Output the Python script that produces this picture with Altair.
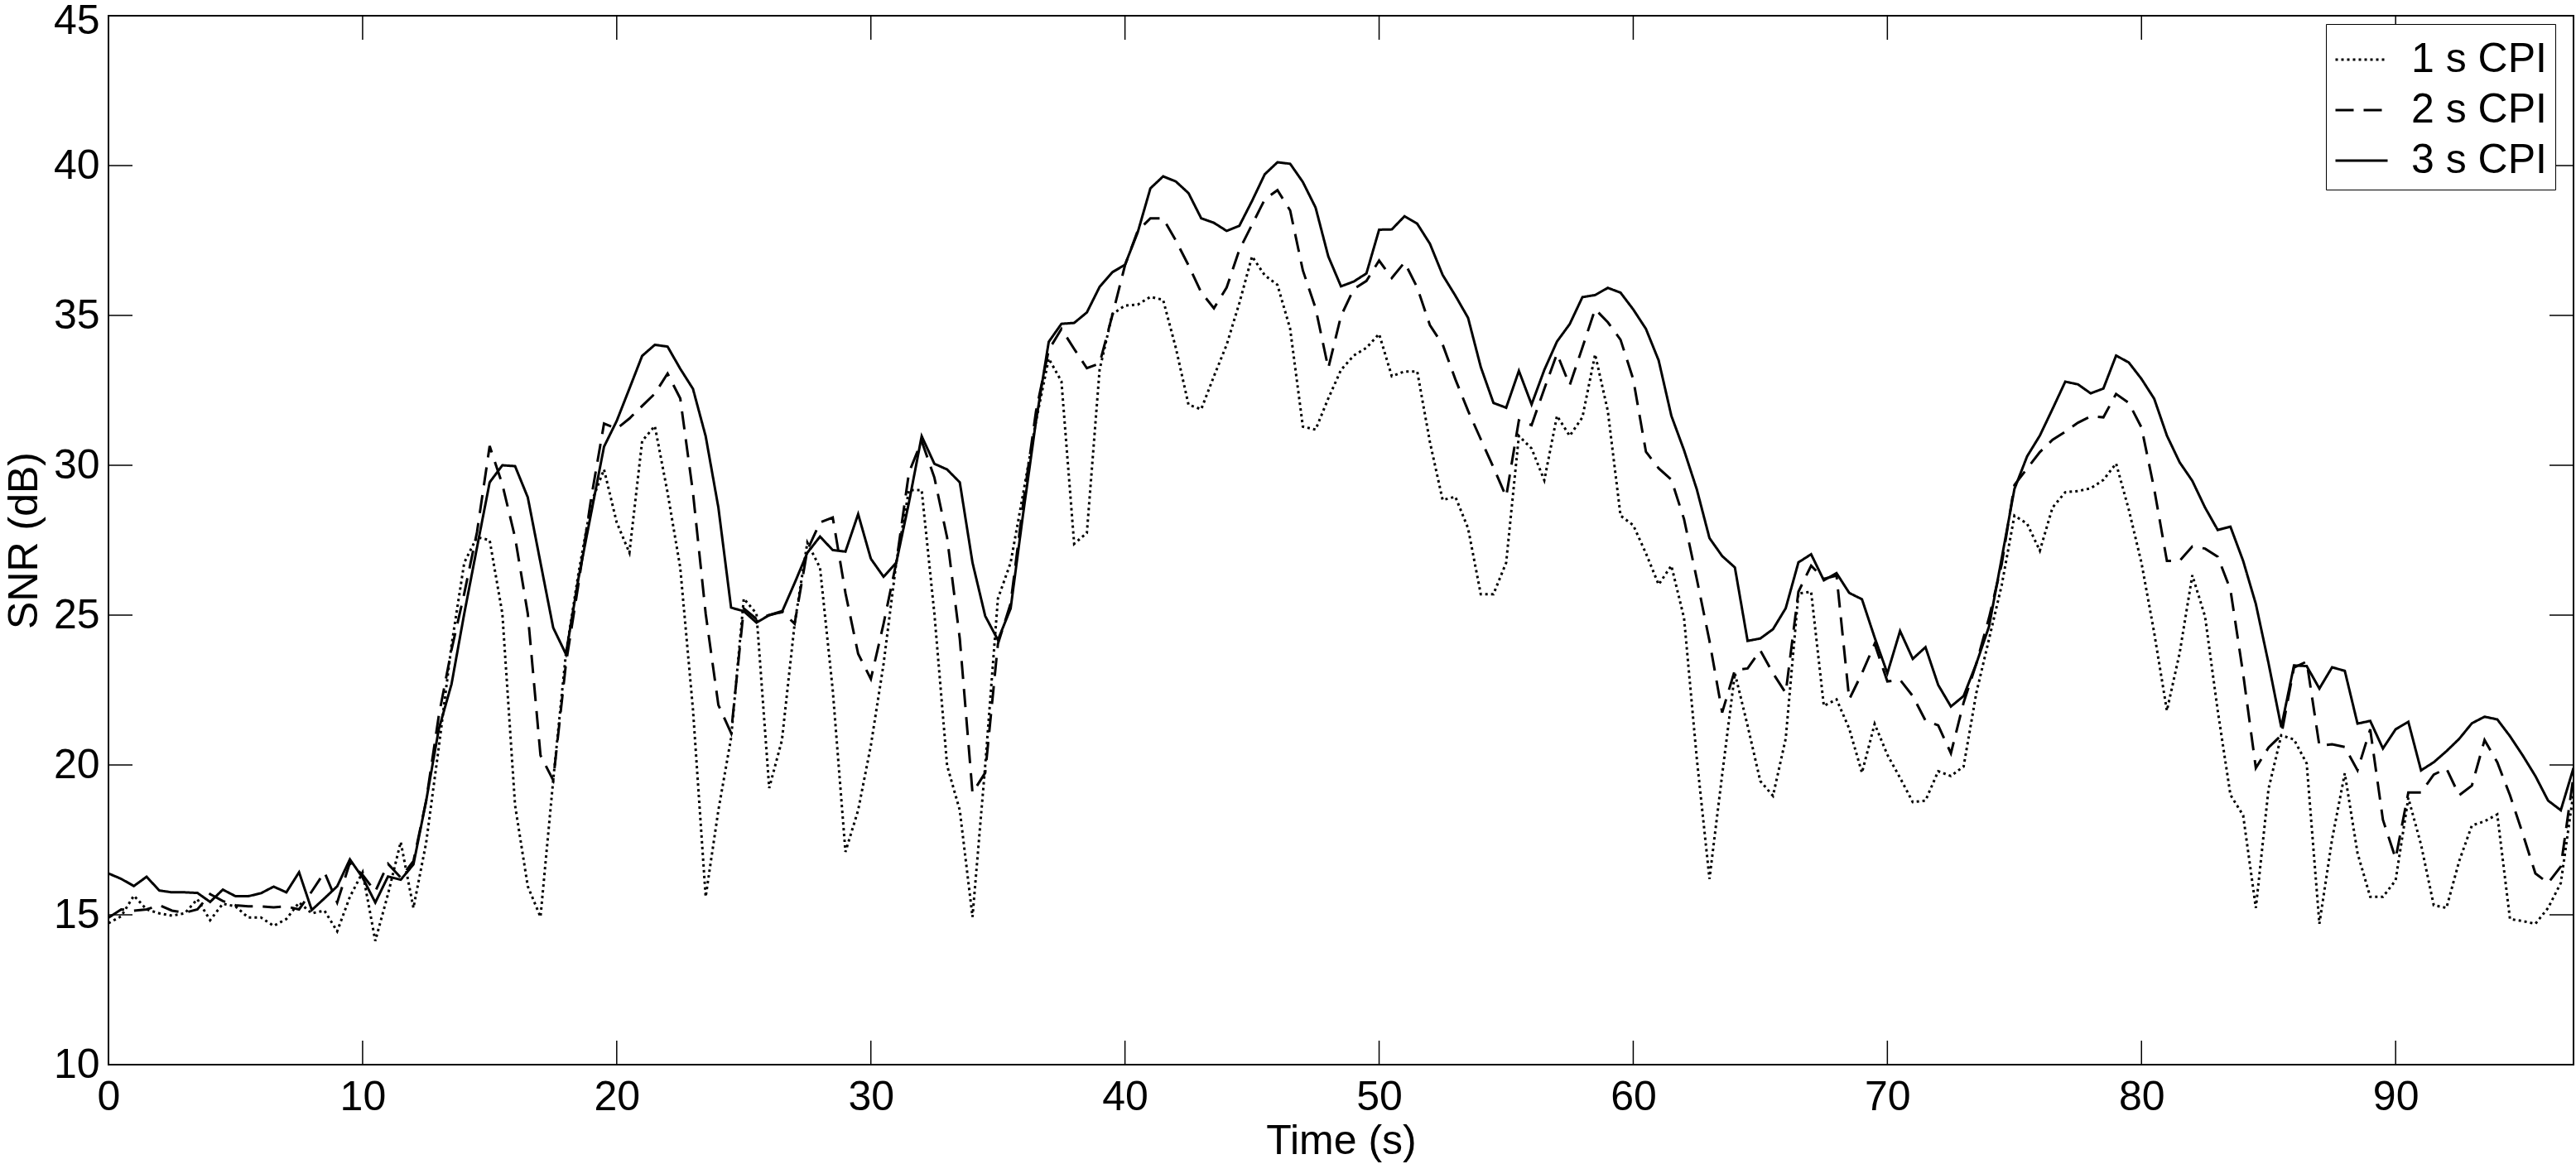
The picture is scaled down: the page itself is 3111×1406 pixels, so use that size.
import altair as alt
import pandas as pd

# ---------------- data ----------------
TIME_STEP_S = 0.5  # samples every 0.5 s, from 0 s to 97 s

snr_1s = [
    14.72, 14.95, 15.64, 15.18, 15.05, 14.97, 15.05, 15.52, 14.82, 15.37,
    15.28, 14.91, 14.91, 14.63, 14.86, 15.41, 15.05, 15.14, 14.45, 15.60,
    16.42, 14.13, 15.69, 17.43, 15.23, 17.40, 20.60, 24.00, 26.75, 27.60,
    27.50, 25.05, 18.65, 15.95, 14.93, 19.49, 23.71, 26.42, 28.76, 29.86,
    28.09, 27.08, 30.81, 31.31, 29.09, 26.58, 21.85, 15.60, 18.49, 20.90,
    25.55, 25.05, 19.23, 20.82, 24.71, 27.42, 26.58, 22.50, 17.10, 18.49,
    20.65, 23.37, 26.75, 29.17, 29.17, 25.05, 19.98, 18.49, 14.93, 19.98,
    25.55, 26.75, 29.09, 31.48, 33.56, 32.80, 27.38, 27.74, 33.18, 35.04,
    35.33, 35.36, 35.62, 35.52, 33.92, 32.02, 31.87, 32.97, 34.02, 35.41,
    36.97, 36.34, 36.02, 34.55, 31.29, 31.19, 32.23, 33.18, 33.66, 33.92,
    34.38, 32.97, 33.13, 33.13, 30.77, 28.84, 28.95, 27.90, 25.70, 25.70,
    26.75, 30.98, 30.56, 29.50, 31.65, 30.98, 31.60, 33.70, 31.81, 28.32,
    28.00, 27.06, 26.02, 26.65, 24.90, 20.22, 16.20, 19.68, 23.06, 21.31,
    19.46, 18.97, 20.88, 25.72, 25.78, 21.97, 22.19, 21.21, 19.74, 21.37,
    20.34, 19.57, 18.76, 18.81, 19.79, 19.63, 19.95, 22.40, 24.20, 26.00,
    28.32, 28.05, 27.15, 28.59, 29.10, 29.14, 29.23, 29.51, 30.06, 28.52,
    26.74, 24.41, 21.81, 23.73, 26.33, 24.96, 21.81, 19.00, 18.32, 15.23,
    19.21, 20.99, 20.85, 20.05, 14.70, 17.52, 19.72, 17.06, 15.60, 15.60,
    16.15, 18.90, 17.34, 15.32, 15.23, 16.79, 17.98, 18.12, 18.35, 14.86,
    14.79, 14.70, 15.23, 16.06, 19.08,
]

snr_2s = [
    14.90, 15.18, 15.14, 15.18, 15.32, 15.14, 15.07, 15.18, 15.69, 15.46,
    15.32, 15.28, 15.28, 15.25, 15.28, 15.18, 15.78, 16.42, 15.41, 16.74,
    16.33, 15.78, 16.70, 16.24, 16.79, 18.80, 21.65, 23.85, 25.72, 27.76,
    30.64, 29.36, 27.59, 25.05, 20.32, 19.49, 23.37, 26.07, 28.93, 31.39,
    31.22, 31.56, 31.98, 32.39, 33.06, 32.23, 29.09, 25.05, 22.00, 21.07,
    25.22, 24.87, 25.00, 25.13, 24.71, 27.17, 28.09, 28.26, 25.74, 23.71,
    22.87, 24.71, 26.75, 29.76, 30.81, 29.59, 27.59, 24.21, 19.07, 19.74,
    24.04, 25.39, 28.76, 31.81, 33.85, 34.55, 33.88, 33.24, 33.40, 35.00,
    36.67, 37.82, 38.24, 38.24, 37.50, 36.67, 35.77, 35.24, 35.93, 37.19,
    38.03, 38.87, 39.18, 38.50, 36.50, 35.24, 33.24, 34.98, 35.88, 36.15,
    36.83, 36.25, 36.77, 35.93, 34.67, 34.03, 32.87, 31.82, 30.87, 29.93,
    28.95, 31.50, 31.34, 32.55, 33.72, 32.67, 33.93, 35.21, 34.77, 34.19,
    32.87, 30.45, 29.90, 29.52, 28.20, 26.21, 24.14, 21.75, 23.17, 23.22,
    23.82, 23.06, 22.40, 25.78, 26.65, 26.21, 26.32, 22.19, 23.06, 24.04,
    22.79, 22.84, 22.30, 21.48, 21.32, 20.39, 22.08, 23.38, 24.91, 26.70,
    29.34, 29.89, 30.44, 30.85, 31.12, 31.42, 31.63, 31.60, 32.38, 32.08,
    31.26, 29.21, 26.81, 26.81, 27.29, 27.22, 26.95, 25.85, 23.04, 19.90,
    20.58, 20.99, 23.25, 23.45, 20.64, 20.69, 20.60, 19.82, 21.19, 18.17,
    16.88, 19.08, 19.08, 19.68, 19.88, 18.99, 19.31, 20.83, 20.09, 18.99,
    17.71, 16.38, 16.06, 16.61, 19.63,
]

snr_3s = [
    16.38, 16.20, 15.96, 16.27, 15.81, 15.75, 15.75, 15.73, 15.43, 15.84,
    15.62, 15.62, 15.72, 15.94, 15.75, 16.42, 15.16, 15.55, 15.95, 16.85,
    16.24, 15.41, 16.28, 16.17, 16.68, 18.80, 21.20, 22.70, 25.05, 27.25,
    29.43, 30.00, 29.97, 28.93, 26.75, 24.58, 23.70, 26.25, 28.43, 30.62,
    31.48, 32.56, 33.65, 34.02, 33.96, 33.22, 32.55, 30.97, 28.59, 25.25,
    25.13, 24.75, 25.00, 25.10, 26.07, 27.08, 27.62, 27.17, 27.12, 28.37,
    26.88, 26.28, 26.75, 28.76, 30.97, 30.05, 29.86, 29.43, 26.75, 24.97,
    24.17, 25.22, 28.43, 31.48, 34.12, 34.72, 34.75, 35.10, 35.95, 36.44,
    36.69, 37.77, 39.24, 39.64, 39.47, 39.08, 38.24, 38.09, 37.82, 37.99,
    38.82, 39.71, 40.11, 40.06, 39.45, 38.60, 36.97, 35.97, 36.13, 36.40,
    37.86, 37.87, 38.31, 38.06, 37.39, 36.35, 35.66, 34.92, 33.28, 32.08,
    31.92, 33.15, 32.03, 33.18, 34.13, 34.71, 35.61, 35.68, 35.92, 35.76,
    35.20, 34.55, 33.50, 31.65, 30.50, 29.20, 27.57, 26.97, 26.59, 24.14,
    24.22, 24.53, 25.23, 26.76, 27.03, 26.16, 26.40, 25.74, 25.53, 24.25,
    23.06, 24.47, 23.54, 23.93, 22.67, 21.95, 22.30, 23.38, 24.62, 26.90,
    29.21, 30.30, 30.99, 31.88, 32.79, 32.70, 32.40, 32.56, 33.66, 33.43,
    32.88, 32.22, 30.99, 30.10, 29.48, 28.59, 27.84, 27.95, 26.81, 25.37,
    23.39, 21.26, 23.32, 23.30, 22.55, 23.26, 23.14, 21.38, 21.47, 20.55,
    21.19, 21.44, 19.82, 20.09, 20.46, 20.87, 21.39, 21.61, 21.52, 20.96,
    20.32, 19.63, 18.81, 18.49, 19.90,
]

series_names = ["1 s CPI", "2 s CPI", "3 s CPI"]
x_ticks = [0, 10, 20, 30, 40, 50, 60, 70, 80, 90]
y_ticks = [10, 15, 20, 25, 30, 35, 40, 45]
x_domain = [0, 97]
y_domain = [10, 45]

# ---------------- layout / style ----------------
W, H = 2977, 1267
FONT = "Liberation Sans"
FS = 50
TICK_LEN = 29

rows = []
for name, vals in zip(series_names, [snr_1s, snr_2s, snr_3s]):
    for i, v in enumerate(vals):
        rows.append({"time": i * TIME_STEP_S, "snr": v, "series": name})
df = pd.DataFrame(rows)

xscale = alt.Scale(domain=x_domain, nice=False, zero=False)
yscale = alt.Scale(domain=y_domain, nice=False, zero=False)

x_axis = alt.Axis(values=x_ticks, title="Time (s)", grid=False, ticks=False,
                  domain=False, labelFont=FONT, labelFontSize=FS, labelColor="black",
                  labelPadding=14, titleFont=FONT, titleFontSize=FS,
                  titleFontWeight="normal", titleColor="black", titlePadding=3,
                  labelFlush=False)
y_axis = alt.Axis(values=y_ticks, title="SNR (dB)", grid=False, ticks=False,
                  domain=False, labelFont=FONT, labelFontSize=FS, labelColor="black",
                  labelPadding=11, titleFont=FONT, titleFontSize=FS,
                  titleFontWeight="normal", titleColor="black", titlePadding=10,
                  labelFlush=False,
                  labelOffset={"condition": {"test": "datum.value == 45", "value": 6},
                               "value": 0})

lines = alt.Chart(df).mark_line(color="black", strokeWidth=3, clip=True).encode(
    x=alt.X("time:Q", scale=xscale, axis=x_axis, title="Time (s)"),
    y=alt.Y("snr:Q", scale=yscale, axis=y_axis, title="SNR (dB)"),
    strokeDash=alt.StrokeDash(
        "series:N",
        scale=alt.Scale(domain=series_names, range=[[3, 4], [22, 12], [1, 0]]),
        legend=alt.Legend(
            orient="none", legendX=2678, legendY=10, title=None,
            symbolType="stroke", symbolSize=3969, symbolStrokeWidth=3,
            symbolStrokeColor="black", labelFont=FONT, labelFontSize=FS,
            labelColor="black", labelOffset=27, rowPadding=3, padding=10,
            strokeColor="black", fillColor="white", labelLimit=400,
        ),
    ),
    detail="series:N",
)

xt = pd.DataFrame({"t": x_ticks})
yt = pd.DataFrame({"v": y_ticks})

xt_bottom = alt.Chart(xt).mark_rule(color="black", strokeWidth=1.5).encode(
    x=alt.X("t:Q", scale=xscale, axis=x_axis, title="Time (s)"),
    y=alt.value(H), y2=alt.value(H - TICK_LEN))
xt_top = alt.Chart(xt).mark_rule(color="black", strokeWidth=1.5).encode(
    x=alt.X("t:Q", scale=xscale, axis=x_axis, title="Time (s)"),
    y=alt.value(0), y2=alt.value(TICK_LEN))
yt_left = alt.Chart(yt).mark_rule(color="black", strokeWidth=1.5).encode(
    y=alt.Y("v:Q", scale=yscale, axis=y_axis, title="SNR (dB)"),
    x=alt.value(0), x2=alt.value(TICK_LEN))
yt_right = alt.Chart(yt).mark_rule(color="black", strokeWidth=1.5).encode(
    y=alt.Y("v:Q", scale=yscale, axis=y_axis, title="SNR (dB)"),
    x=alt.value(W), x2=alt.value(W - TICK_LEN))

chart = alt.layer(lines, xt_bottom, xt_top, yt_left, yt_right).properties(
    width=W, height=H,
    autosize=alt.AutoSizeParams(type="none"),
    padding={"left": 131, "top": 19, "right": 3, "bottom": 120},
    background="white",
).configure_view(stroke="black", strokeWidth=2)

chart.save("out.html", embed_options={"renderer": "svg", "actions": False})
